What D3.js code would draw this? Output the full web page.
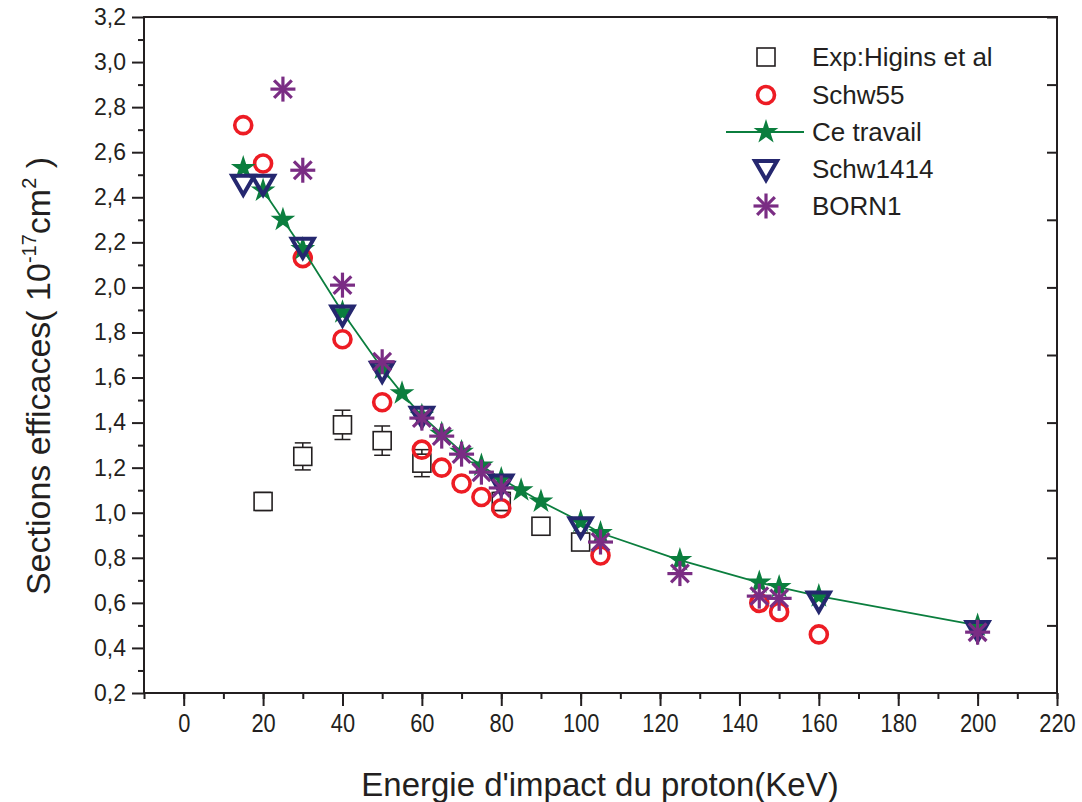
<!DOCTYPE html>
<html lang="fr">
<head>
<meta charset="UTF-8">
<title>Sections efficaces</title>
<script src="https://d3js.org/d3.v7.min.js"></script>
<style>
  body { margin: 0; background: #fff; }
  text { font-family: "Liberation Sans", Arial, sans-serif; fill: #231f20; }
</style>
</head>
<body>
<svg width="1082" height="802"></svg>
<script>
// Data (energie en keV, sections efficaces en 1e-17 cm2)
const expX = [20, 30, 40, 50, 60, 80, 90, 100];
const expY = [1.05, 1.25, 1.39, 1.32, 1.22, 1.05, 0.94, 0.87];
const expErr = [0.04, 0.06, 0.065, 0.065, 0.06, 0.04, 0.02, 0.02];

const schw55X = [15, 20, 30, 40, 50, 60, 65, 70, 75, 80, 105, 145, 150, 160];
const schw55Y = [2.72, 2.55, 2.13, 1.77, 1.49, 1.28, 1.20, 1.13, 1.07, 1.02, 0.81, 0.60, 0.56, 0.46];

const ceX = [15, 20, 25, 30, 40, 50, 55, 60, 65, 70, 75, 80, 85, 90, 100, 105, 125, 145, 150, 160, 200];
const ceY = [2.53, 2.43, 2.30, 2.17, 1.89, 1.64, 1.53, 1.43, 1.35, 1.27, 1.21, 1.15, 1.10, 1.05, 0.96, 0.91, 0.79, 0.69, 0.67, 0.63, 0.50];

const schw1414X = [15, 20, 30, 40, 50, 60, 80, 100, 160, 200];
const schw1414Y = [2.46, 2.46, 2.18, 1.88, 1.63, 1.43, 1.13, 0.94, 0.61, 0.48];

const born1X = [25, 30, 40, 50, 60, 65, 70, 75, 80, 105, 125, 145, 150, 200];
const born1Y = [2.88, 2.52, 2.01, 1.67, 1.42, 1.34, 1.26, 1.18, 1.11, 0.87, 0.73, 0.63, 0.62, 0.47];

const legendNames = ["Exp:Higins et al", "Schw55", "Ce travail", "Schw1414", "BORN1"];
const xTicks = d3.range(0, 221, 20);
const yTicks = d3.range(0.2, 3.21, 0.2).map(v => +v.toFixed(1));

const red = "#ed1c24", green = "#0b7e3e", navy = "#25276f", purple = "#7a2d84", ink = "#231f20";

const svg = d3.select("svg");
const x = d3.scaleLinear().domain([-10, 220]).range([144, 1057]);
const y = d3.scaleLinear().domain([0.2, 3.2]).range([693, 17]);
const fmt = v => d3.format(".1f")(v).replace(".", ",");

// frame
svg.append("rect")
  .attr("x", x(-10)).attr("y", y(3.2))
  .attr("width", x(220) - x(-10)).attr("height", y(0.2) - y(3.2))
  .attr("fill", "none").attr("stroke", ink).attr("stroke-width", 2);

// bottom axis
const gx = svg.append("g").attr("transform", `translate(0,${y(0.2)})`);
gx.append("g")
  .call(d3.axisBottom(x).tickValues(d3.range(-10, 221, 10)).tickSize(6).tickFormat(""))
  .call(g => g.select(".domain").remove())
  .selectAll("line").attr("stroke", ink).attr("stroke-width", 2);
gx.append("g")
  .call(d3.axisBottom(x).tickValues(xTicks).tickSize(13).tickPadding(8).tickFormat(d3.format("d")))
  .call(g => g.select(".domain").remove())
  .call(g => g.selectAll("line").attr("stroke", ink).attr("stroke-width", 2))
  .call(g => g.selectAll("text").attr("font-size", 26).attr("fill", ink).attr("transform", "scale(0.84,1)"));

// left axis
const gy = svg.append("g").attr("transform", `translate(${x(-10)},0)`);
gy.append("g")
  .call(d3.axisLeft(y).tickValues(d3.range(0.3, 3.2, 0.2)).tickSize(6).tickFormat(""))
  .call(g => g.select(".domain").remove())
  .selectAll("line").attr("stroke", ink).attr("stroke-width", 2);
gy.append("g")
  .call(d3.axisLeft(y).tickValues(yTicks).tickSize(12).tickPadding(6).tickFormat(fmt))
  .call(g => g.select(".domain").remove())
  .call(g => g.selectAll("line").attr("stroke", ink).attr("stroke-width", 2))
  .call(g => g.selectAll("text").attr("font-size", 23).attr("fill", ink));

// right axis (inward ticks)
svg.append("g").attr("transform", `translate(${x(220)},0)`)
  .call(d3.axisLeft(y).tickValues(d3.range(0.5, 3.21, 0.3)).tickSize(10).tickFormat(""))
  .call(g => g.select(".domain").remove())
  .selectAll("line").attr("stroke", ink).attr("stroke-width", 2);

// axis titles
svg.append("text")
  .attr("transform", "translate(600,796) scale(0.97,1)")
  .attr("text-anchor", "middle")
  .attr("font-size", 34).text("Energie d'impact du proton(KeV)");

const yl = svg.append("text")
  .attr("transform", "translate(50,376) rotate(-90)")
  .attr("text-anchor", "middle").attr("font-size", 34);
yl.append("tspan").text("Sections efficaces( 10");
yl.append("tspan").attr("font-size", 20).attr("dy", -14).text("-17");
yl.append("tspan").attr("dy", 14).text("cm");
yl.append("tspan").attr("font-size", 20).attr("dy", -14).text("2");
yl.append("tspan").attr("dy", 14).text(" )");

// marker drawers
const drawSquare = (g, cx, cy) => g.append("rect")
  .attr("x", cx - 9).attr("y", cy - 9).attr("width", 18).attr("height", 18)
  .attr("fill", "#fff").attr("stroke", ink).attr("stroke-width", 1.6);
const drawCircle = (g, cx, cy) => g.append("circle")
  .attr("cx", cx).attr("cy", cy).attr("r", 8.5)
  .attr("fill", "none").attr("stroke", red).attr("stroke-width", 3.6);
const drawStar = (g, cx, cy) => g.append("path")
  .attr("transform", `translate(${cx},${cy})`)
  .attr("d", d3.symbol(d3.symbolStar, 190)()).attr("fill", green);
const drawTri = (g, cx, cy) => g.append("path")
  .attr("d", `M${cx - 11},${cy - 8}L${cx + 11},${cy - 8}L${cx},${cy + 11}Z`)
  .attr("fill", "none").attr("stroke", navy).attr("stroke-width", 4).attr("stroke-linejoin", "miter");
const drawAst = (g, cx, cy) => {
  const r = 12.5;
  [0, 45, 90, 135].forEach(a => {
    const dx = r * Math.cos(a * Math.PI / 180), dy = r * Math.sin(a * Math.PI / 180);
    g.append("line").attr("x1", cx - dx).attr("y1", cy - dy).attr("x2", cx + dx).attr("y2", cy + dy)
      .attr("stroke", purple).attr("stroke-width", 3.2);
  });
};

const plot = svg.append("g");

// Exp with error bars
expX.forEach((d, i) => {
  const g = plot.append("g");
  const cx = x(d), top = y(expY[i] + expErr[i]), bot = y(expY[i] - expErr[i]);
  g.append("line").attr("x1", cx).attr("x2", cx).attr("y1", top).attr("y2", bot).attr("stroke", ink).attr("stroke-width", 1.5);
  [top, bot].forEach(v => g.append("line").attr("x1", cx - 8).attr("x2", cx + 8).attr("y1", v).attr("y2", v)
    .attr("stroke", ink).attr("stroke-width", 1.5));
  drawSquare(g, cx, y(expY[i]));
});

schw55X.forEach((d, i) => drawCircle(plot, x(d), y(schw55Y[i])));

plot.append("path")
  .datum(ceX.map((d, i) => [d, ceY[i]]))
  .attr("fill", "none").attr("stroke", green).attr("stroke-width", 1.8)
  .attr("d", d3.line().x(d => x(d[0])).y(d => y(d[1])));
ceX.forEach((d, i) => drawStar(plot, x(d), y(ceY[i])));

schw1414X.forEach((d, i) => drawTri(plot, x(d), y(schw1414Y[i])));
born1X.forEach((d, i) => drawAst(plot, x(d), y(born1Y[i])));

// legend
const leg = svg.append("g");
const rowY = [57, 95, 132, 169, 206];
const drawers = [drawSquare, drawCircle, drawStar, drawTri, drawAst];
legendNames.forEach((name, i) => {
  if (i === 2) leg.append("line").attr("x1", 726).attr("x2", 804).attr("y1", rowY[i]).attr("y2", rowY[i])
    .attr("stroke", green).attr("stroke-width", 1.8);
  drawers[i](leg, 766, rowY[i]);
  leg.append("text").attr("x", 812).attr("y", rowY[i] + 9).attr("font-size", 26).text(name);
});
</script>
</body>
</html>
